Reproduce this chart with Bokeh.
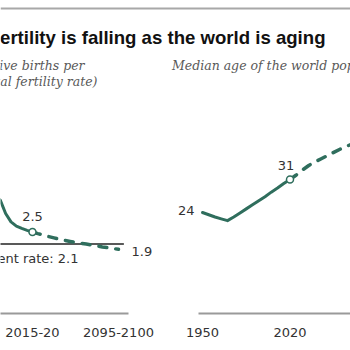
from bokeh.plotting import figure
from bokeh.models import Range1d, LinearAxis, FixedTicker, Label, BoxAnnotation
from bokeh.layouts import column, row
from bokeh.embed import file_html
from bokeh.resources import INLINE

# ---------------- data ----------------
fert_periods = ["1950-55", "1955-60", "1960-65", "1965-70", "1970-75", "1975-80",
                "1980-85", "1985-90", "1990-95", "1995-2000", "2000-05", "2005-10",
                "2010-15", "2015-20", "2020-25", "2025-30", "2030-35", "2035-40",
                "2040-45", "2045-50", "2050-55", "2055-60", "2060-65", "2065-70",
                "2070-75", "2075-80", "2080-85", "2085-90", "2090-95", "2095-2100"]
fert_mid = [1952.5, 1957.5, 1962.5, 1967.5, 1972.5, 1977.5, 1982.5, 1987.5, 1992.5,
            1997.5, 2002.5, 2007.5, 2012.5, 2017.5, 2022.5, 2027.5, 2032.5, 2037.5,
            2042.5, 2047.5, 2052.5, 2057.5, 2062.5, 2067.5, 2072.5, 2077.5, 2082.5,
            2087.5, 2092.5, 2097.5]
fert_tfr = [4.97, 4.90, 5.02, 4.93, 4.47, 3.86, 3.59, 3.45, 3.04, 2.78, 2.65, 2.58,
            2.52, 2.47, 2.42, 2.38, 2.33, 2.29, 2.25, 2.21, 2.18, 2.15, 2.12, 2.10,
            2.07, 2.04, 2.01, 1.99, 1.96, 1.94]
fert_last_observed = "2015-20"
replacement_rate = 2.1
fert_tick_labels = ["1950-55", "2015-20", "2095-2100"]

age_years = [1950, 1955, 1960, 1965, 1970, 1975, 1980, 1985, 1990, 1995, 2000, 2005,
             2010, 2015, 2020, 2025, 2030, 2035, 2040, 2045, 2050, 2055, 2060, 2065,
             2070, 2075, 2080, 2085, 2090, 2095, 2100]
age_median = [23.6, 23.1, 22.6, 22.2, 21.8, 22.6, 23.5, 24.4, 25.3, 26.2, 27.1, 28.1,
              29.0, 30.0, 30.9, 31.9, 33.0, 34.0, 34.8, 35.5, 36.2, 36.9, 37.6, 38.2,
              38.8, 39.4, 39.9, 40.5, 41.0, 41.5, 41.9]
age_last_observed = 2020
age_tick_labels = ["1950", "2020", "2100"]

title_text = "Fertility is falling as the world is aging"
sub_left_1 = "Average number of live births per"
sub_left_2 = "woman (total fertility rate)"
sub_right = "Median age of the world population"
replacement_text = "Replacement rate: 2.1"

# ---------------- style ----------------
GREEN = "#2f6e5d"
AXIS_GREY = "#9a9a9a"
TXT = "#333333"
SUB = "#595959"
SANS = "DejaVu Sans"
SERIF = "DejaVu Serif"

W = 350
HEAD_H = 95
CHART_H = 255
FRAME_H = 218          # chart frame: screen y 95 .. 313


def base_fig(width, height, xr, yr):
    p = figure(width=width, height=height, x_range=xr, y_range=yr,
               x_axis_type=None, y_axis_type=None, toolbar_location=None,
               output_backend="svg", title=None)
    p.outline_line_color = None
    p.background_fill_color = "white"
    p.border_fill_color = "white"
    p.min_border_top = 0
    p.min_border_left = 0
    p.min_border_right = 0
    return p


def add_axis(p, ticks, labels, bounds):
    ax = LinearAxis(ticker=FixedTicker(ticks=ticks),
                    major_label_overrides={t: l for t, l in zip(ticks, labels)},
                    bounds=bounds)
    ax.axis_line_color = AXIS_GREY
    ax.axis_line_width = 2
    ax.major_tick_line_color = None
    ax.minor_tick_line_color = None
    ax.major_tick_in = 0
    ax.major_tick_out = 0
    ax.major_label_standoff = 14
    ax.major_label_text_font = SANS
    ax.major_label_text_font_size = "13px"
    ax.major_label_text_color = TXT
    p.add_layout(ax, "below")


def label(p, x, y, text, align, xo=0, yo=0, size="13px", font=SANS, style="normal",
          color=TXT):
    p.add_layout(Label(x=x, y=y, text=text, text_align=align, text_baseline="middle",
                       x_offset=xo, y_offset=yo, text_font=font, text_font_style=style,
                       text_font_size=size, text_color=color))


# ---------------- header (y measured upward from its bottom edge) ----------------
head = base_fig(W, HEAD_H, Range1d(0, W), Range1d(0, HEAD_H))
head.min_border_bottom = 0
head.add_layout(BoxAnnotation(left=0, right=W, bottom=HEAD_H - 9, top=HEAD_H - 7,
                              fill_color="#a8a8a8", fill_alpha=1.0, line_color=None,
                              level="overlay"))
label(head, 325, HEAD_H - 36.5, title_text, "right", size="18.6px",
      font="Liberation Sans", style="bold", color="#111111")
label(head, 84, HEAD_H - 64.5, sub_left_1, "right", size="12.5px", font=SERIF,
      style="italic", color=SUB)
label(head, 97, HEAD_H - 81, sub_left_2, "right", size="12.5px", font=SERIF,
      style="italic", color=SUB)
label(head, 171.5, HEAD_H - 64.5, sub_right, "left", size="12.5px", font=SERIF,
      style="italic", color=SUB)

# ---------------- left: fertility ----------------
fx_px = 1.075   # px per year
fy_px = 32.5    # px per child
f_i = fert_periods.index(fert_last_observed)
fx0 = fert_mid[f_i] - 32 / fx_px
fy0 = fert_tfr[f_i] - (313 - 231.5) / fy_px
left = base_fig(175, CHART_H, Range1d(fx0, fx0 + 175 / fx_px),
                Range1d(fy0, fy0 + FRAME_H / fy_px))
left.min_border_bottom = 37
add_axis(left, [fert_mid[fert_periods.index(t)] for t in fert_tick_labels],
         fert_tick_labels, (fert_mid[0] - 2.5, fert_mid[-1] + 9))

left.segment(x0=[fert_mid[0] - 2.5], x1=[fert_mid[-1] + 5],
             y0=[replacement_rate], y1=[replacement_rate],
             line_color="#222222", line_width=1.6)
left.line(fert_mid[:f_i + 1], fert_tfr[:f_i + 1], line_color=GREEN, line_width=3,
          line_join="round", line_cap="round")
left.line(fert_mid[f_i:], fert_tfr[f_i:], line_color=GREEN, line_width=3.5,
          line_dash="8 9", line_cap="round")
left.scatter([fert_mid[f_i]], [fert_tfr[f_i]], size=7, fill_color="white",
             line_color=GREEN, line_width=1.5)
label(left, fert_mid[f_i], fert_tfr[f_i], f"{fert_tfr[f_i]:.1f}", "center", yo=16)
label(left, fert_mid[-1], fert_tfr[-1], f"{fert_tfr[-1]:.1f}", "left", xo=13, yo=-2)
label(left, fx0 + 78 / fx_px, replacement_rate, replacement_text, "right", yo=-14)

# ---------------- right: median age ----------------
ax_px = 1.25
ay_px = 4.52
a_i = age_years.index(age_last_observed)
ax0 = age_years[0] - (202 - 175) / ax_px
ay0 = age_median[a_i] - (313 - 179) / ay_px
right = base_fig(175, CHART_H, Range1d(ax0, ax0 + 175 / ax_px),
                 Range1d(ay0, ay0 + FRAME_H / ay_px))
right.min_border_bottom = 37
add_axis(right, [int(t) for t in age_tick_labels], age_tick_labels,
         (age_years[0] - 3.2, age_years[-1] + 3))

right.line(age_years[:a_i + 1], age_median[:a_i + 1], line_color=GREEN, line_width=3,
           line_join="round", line_cap="round")
right.line(age_years[a_i:], age_median[a_i:], line_color=GREEN, line_width=3.5,
           line_dash="8 9", line_cap="round")
right.scatter([age_years[a_i]], [age_median[a_i]], size=7, fill_color="white",
              line_color=GREEN, line_width=1.5)
label(right, age_years[0], age_median[0], f"{age_median[0]:.0f}", "right", xo=-8, yo=1.5)
label(right, age_years[a_i], age_median[a_i], f"{age_median[a_i]:.0f}", "center",
      xo=-4, yo=14)
label(right, age_years[-1], age_median[-1], f"{age_median[-1]:.0f}", "left", xo=8)

layout = column(head, row(left, right, spacing=0), spacing=0)

open("out.html", "w").write(file_html(layout, INLINE))
